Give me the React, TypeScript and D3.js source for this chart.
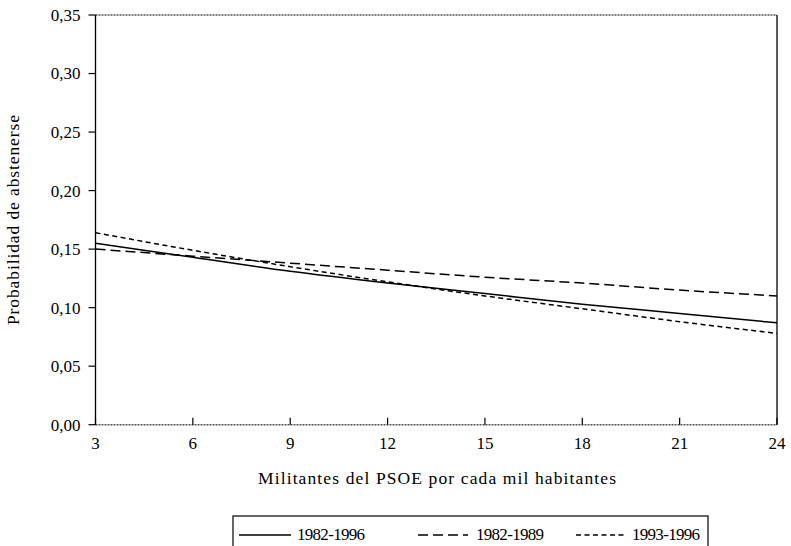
import React from "react";
import * as d3 from "d3";

const xValues = [3, 6, 9, 12, 15, 18, 21, 24];
const series8296 = [0.155, 0.143, 0.131, 0.121, 0.112, 0.103, 0.095, 0.087];
const series8289 = [0.150, 0.144, 0.138, 0.132, 0.126, 0.121, 0.115, 0.110];
const series9396 = [0.164, 0.149, 0.135, 0.122, 0.110, 0.099, 0.088, 0.078];
const yTicks = [0, 0.05, 0.1, 0.15, 0.2, 0.25, 0.3, 0.35];
const xTicks = [3, 6, 9, 12, 15, 18, 21, 24];
const seriesNames = ["1982-1996", "1982-1989", "1993-1996"];

const W = 791, H = 546;
const L = 95.5, R = 777, T = 15, B = 424.7;
const font = "Liberation Serif, DejaVu Serif, serif";
const fs = 17.5;

export default function App() {
  const x = d3.scaleLinear().domain([3, 24]).range([L, R]);
  const y = d3.scaleLinear().domain([0, 0.35]).range([B, T]);
  const line = d3.line<number>().x((_, i) => x(xValues[i])).y((d) => y(d)).curve(d3.curveMonotoneX);
  const fmt = (v: number) => v.toFixed(2).replace(".", ",");
  const series = [
    { name: seriesNames[0], data: series8296, dash: "none" },
    { name: seriesNames[1], data: series8289, dash: "10,5" },
    { name: seriesNames[2], data: series9396, dash: "5,3.5" },
  ];
  const legendItems = [
    { x1: 239, x2: 291, tx: 297 },
    { x1: 418, x2: 468, tx: 476 },
    { x1: 576, x2: 626, tx: 632 },
  ];
  return (
    <svg width={W} height={H} style={{ position: "absolute", left: 0, top: 0, background: "#fff", fontFamily: font }}>
      <rect x={0} y={0} width={W} height={H} fill="#fff" />
      {series.map((s) => (
        <path key={s.name} d={line(s.data) || ""} fill="none" stroke="#000" strokeWidth={1.5} strokeDasharray={s.dash} />
      ))}
      <line x1={L} x2={R} y1={T} y2={T} stroke="#555" strokeWidth={1.6} strokeDasharray="2,1" />
      <line x1={L} x2={R} y1={B} y2={B} stroke="#555" strokeWidth={1.6} strokeDasharray="2,1" />
      <line x1={L} x2={L} y1={T} y2={B} stroke="#000" strokeWidth={1.3} />
      <line x1={R} x2={R} y1={T} y2={B} stroke="#000" strokeWidth={1.3} />
      {yTicks.map((t) => (
        <g key={t}>
          <line x1={L - 7} x2={L} y1={y(t)} y2={y(t)} stroke="#000" strokeWidth={1.2} />
          <text x={L - 15} y={y(t)} dy="0.35em" textAnchor="end" fontSize={17} style={{ fontFamily: font }}>{fmt(t)}</text>
        </g>
      ))}
      {xTicks.map((t) => (
        <g key={t}>
          <line x1={x(t)} x2={x(t)} y1={B} y2={B - 7} stroke="#000" strokeWidth={1.2} />
          <text x={x(t)} y={B + 24} textAnchor="middle" fontSize={17} style={{ fontFamily: font }}>{t}</text>
        </g>
      ))}
      <text x={258} y={484} fontSize={fs} textLength={358} lengthAdjust="spacing" style={{ fontFamily: font }}>Militantes del PSOE por cada mil habitantes</text>
      <text transform={`translate(19,325) rotate(-90)`} fontSize={fs} textLength={210} lengthAdjust="spacing" style={{ fontFamily: font }}>Probabilidad de abstenerse</text>
      <rect x={233} y={516} width={475} height={60} fill="none" stroke="#000" strokeWidth={1.2} />
      {series.map((s, i) => (
        <g key={s.name}>
          <line x1={legendItems[i].x1} x2={legendItems[i].x2} y1={535} y2={535} stroke="#000" strokeWidth={1.5} strokeDasharray={s.dash} />
          <text x={legendItems[i].tx} y={540} fontSize={17} textLength={68} lengthAdjust="spacing" style={{ fontFamily: font }}>{s.name}</text>
        </g>
      ))}
    </svg>
  );
}
